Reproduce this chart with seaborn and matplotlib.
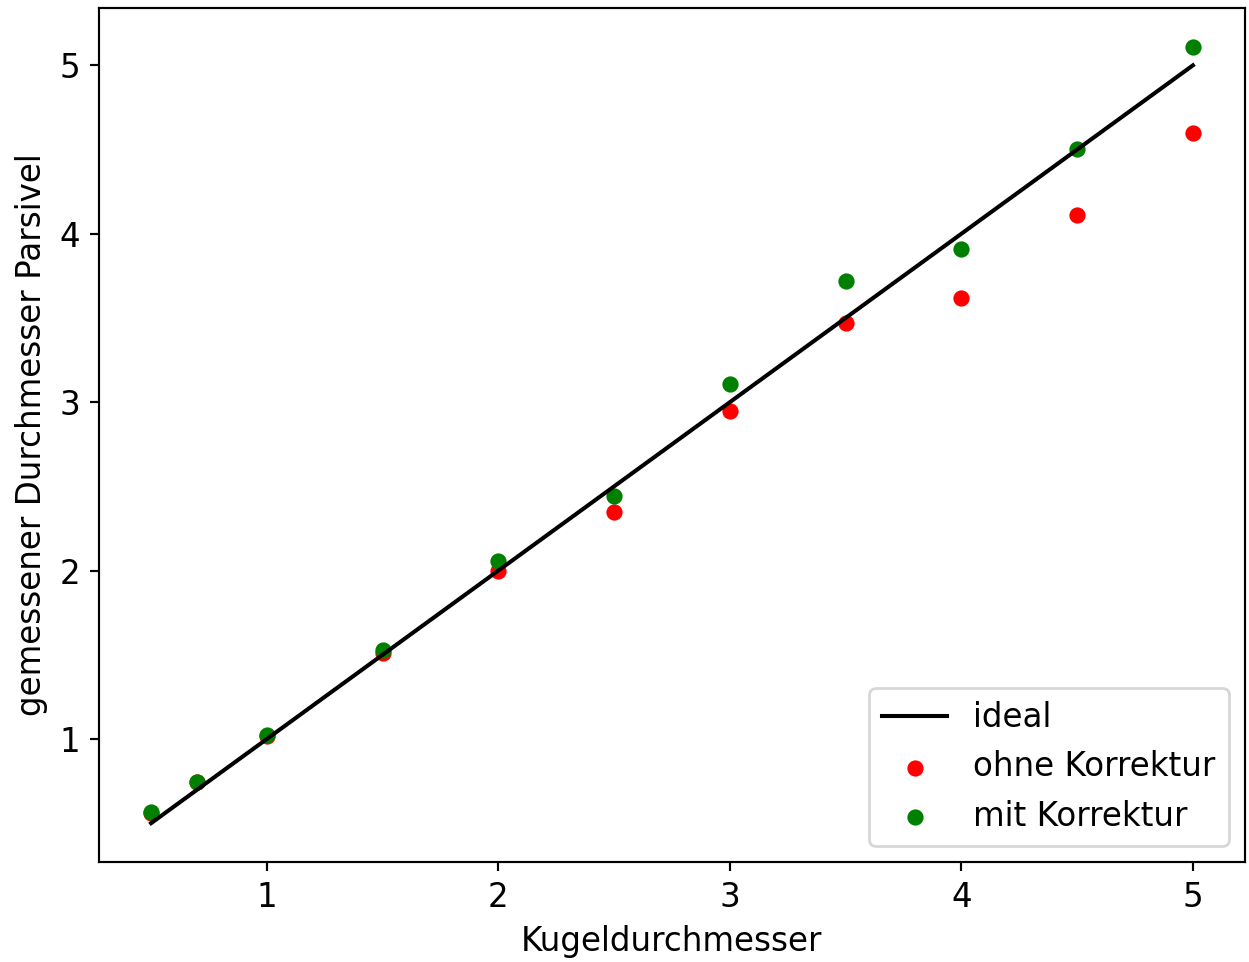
import matplotlib
matplotlib.use("Agg")
import matplotlib.pyplot as plt
import seaborn as sns
import numpy as np

kugel = [0.5, 0.7, 1.0, 1.5, 2.0, 2.5, 3.0, 3.5, 4.0, 4.5, 5.0]
ohne_korrektur = [0.56, 0.745, 1.02, 1.51, 2.0, 2.35, 2.95, 3.47, 3.62, 4.11, 4.6]
mit_korrektur = [0.565, 0.745, 1.025, 1.53, 2.055, 2.44, 3.105, 3.72, 3.91, 4.505, 5.11]
ideal_x = [0.5, 5.0]
ideal_y = [0.5, 5.0]

plt.rcParams["font.size"] = 12

fig = plt.figure(figsize=(1249/195, 962/195), dpi=195)
ax = fig.add_axes([99/1249, 100/962, (1245-99)/1249, (862-8)/962])

sns.lineplot(x=ideal_x, y=ideal_y, color="black", linewidth=1.5, label="ideal", ax=ax)
sns.scatterplot(x=kugel, y=ohne_korrektur, color="red", s=36, linewidth=0, label="ohne Korrektur", ax=ax)
sns.scatterplot(x=kugel, y=mit_korrektur, color="green", s=36, linewidth=0, label="mit Korrektur", ax=ax)

ax.set_xlabel("Kugeldurchmesser", fontsize=12)
ax.set_ylabel("gemessener Durchmesser Parsivel", fontsize=12)
ax.tick_params(labelsize=12)
ax.legend(loc="lower right", fontsize=12)

fig.savefig("out.png", dpi=195)
